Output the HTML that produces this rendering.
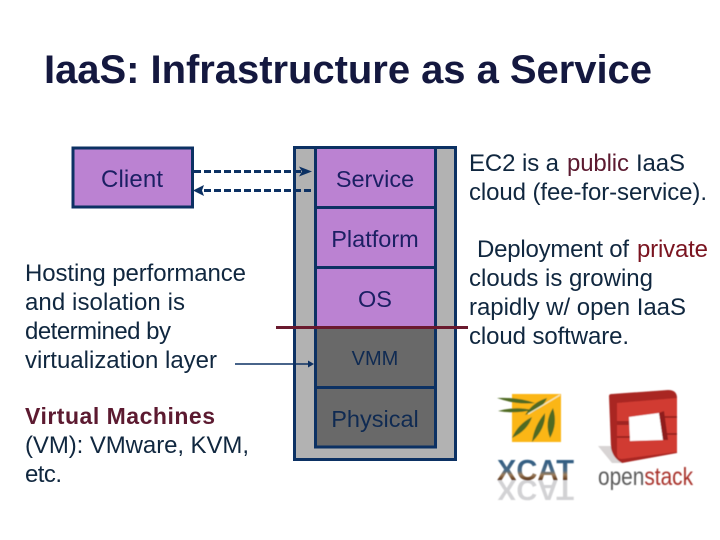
<!DOCTYPE html>
<html><head><meta charset="utf-8"><style>
html,body{margin:0;padding:0;background:#fff;width:720px;height:540px;overflow:hidden}
svg{display:block}
text{font-family:"Liberation Sans",Arial,sans-serif}
</style></head><body>
<svg width="720" height="540" viewBox="0 0 720 540" xmlns="http://www.w3.org/2000/svg">
<defs>
<filter id="b" x="-5%" y="-5%" width="110%" height="110%"><feGaussianBlur stdDeviation="0.5"/></filter>
<linearGradient id="xg" gradientUnits="userSpaceOnUse" x1="0" y1="459" x2="0" y2="480">
<stop offset="0" stop-color="#2c5a82"/><stop offset=".55" stop-color="#4a6a85"/><stop offset=".75" stop-color="#9a7a58"/><stop offset="1" stop-color="#5a3418"/>
</linearGradient>
</defs>
<rect width="720" height="540" fill="#fff"/>
<text x="44" y="83" font-size="40" font-weight="bold" fill="#14183f" textLength="608" lengthAdjust="spacing">IaaS: Infrastructure as a Service</text>

<rect x="73" y="148" width="119.500" height="59" fill="#bb82d2" stroke="#0c3163" stroke-width="3"/>
<text x="101" y="187" font-size="24" fill="#1b1f63" textLength="62" lengthAdjust="spacing">Client</text>

<rect x="294.500" y="147.500" width="161" height="312" fill="#b2b2b2" stroke="#0c3163" stroke-width="3"/>
<rect x="315.500" y="147.500" width="120" height="180" fill="#bb82d2"/>
<rect x="315.500" y="327.500" width="120" height="119.500" fill="#696969"/>
<g stroke="#0c3163" stroke-width="3" fill="none">
<rect x="315.500" y="147.500" width="120" height="299.500"/>
<path d="M315.500 207.500H435.500M315.500 267.500H435.500M315.500 387.500H435.500"/>
</g>
<path d="M276 327.500H468" stroke="#6a1a2e" stroke-width="3"/>

<g font-size="23.500" text-anchor="middle">
<text x="375" y="187" fill="#1b1f63">Service</text>
<text x="375" y="247" fill="#1b1f63">Platform</text>
<text x="375" y="307" fill="#1b1f63">OS</text>
<text x="375" y="365" font-size="20" fill="#0f2a52">VMM</text>
<text x="375" y="427" fill="#0f2a52">Physical</text>
</g>

<g stroke="#0c3163" stroke-width="3" fill="none" stroke-dasharray="7 3">
<path d="M194 171.500H302"/>
<path d="M204 190.500H312"/>
</g>
<path d="M312 171.500L299 166.500L302 171.500L299 176.500Z" fill="#0c3163"/>
<path d="M193 190.500L204 185L202 190.500L204 196Z" fill="#0c3163"/>
<path d="M235 364H312" stroke="#0c3163" stroke-width="1.500"/>
<path d="M314 364L308 360.500V367.500Z" fill="#0c3163"/>

<g font-size="24" fill="#10273f">
<text x="25" y="281" textLength="221" lengthAdjust="spacing">Hosting performance</text>
<text x="25" y="310" textLength="160" lengthAdjust="spacing">and isolation is</text>
<text x="25" y="339" textLength="146" lengthAdjust="spacing">determined by</text>
<text x="25" y="368" textLength="192" lengthAdjust="spacing">virtualization layer</text>
<text x="25" y="424" font-weight="bold" font-size="23" fill="#5c1a30" textLength="190" lengthAdjust="spacing">Virtual Machines</text>
<text x="25" y="453" textLength="224" lengthAdjust="spacing">(VM): VMware, KVM,</text>
<text x="25" y="482" textLength="37" lengthAdjust="spacing">etc.</text>

<text x="469" y="171" textLength="90" lengthAdjust="spacing">EC2 is a</text>
<text x="567" y="171" fill="#5c1a30" textLength="62" lengthAdjust="spacing">public</text>
<text x="636" y="171" textLength="49" lengthAdjust="spacing">IaaS</text>
<text x="469" y="200" textLength="238" lengthAdjust="spacing">cloud (fee-for-service).</text>
<text x="477" y="257" textLength="152" lengthAdjust="spacing">Deployment of</text>
<text x="637" y="257" fill="#7a1420" textLength="71" lengthAdjust="spacing">private</text>
<text x="469" y="286" textLength="184" lengthAdjust="spacing">clouds is growing</text>
<text x="469" y="315" textLength="217" lengthAdjust="spacing">rapidly w/ open IaaS</text>
<text x="469" y="344" textLength="160" lengthAdjust="spacing">cloud software.</text>
</g>

<!-- xCAT logo -->
<g filter="url(#b)">
<rect x="512" y="394" width="49" height="48" fill="#fbb615"/>
<g fill="#4f6b24">
<path d="M497 398Q518 397 535 403Q516 405 497 398Z"/>
<path d="M498 411Q516 406 532 410Q516 414 498 411Z"/>
<path d="M512 438Q518 424 532 417Q528 430 512 438Z"/>
<path d="M532 442Q534 426 545 413Q546 428 532 442Z"/>
<path d="M550 438Q544 422 553 408Q558 424 550 438Z"/>
<path d="M525 415Q533 402 547 398Q543 409 525 415Z"/>
</g>
<path d="M528 414L560 395" stroke="#f2efc8" stroke-width="1.200"/>
<g opacity=".3" transform="translate(0,960) scale(1,-1)">
<text x="497" y="480" font-size="29" font-weight="bold" fill="#6b6b70" textLength="77" lengthAdjust="spacingAndGlyphs">XCAT</text>
</g>
<text x="497" y="480" font-size="29" font-weight="bold" fill="url(#xg)" textLength="77" lengthAdjust="spacingAndGlyphs">XCAT</text>
</g>

<!-- OpenStack logo -->
<g filter="url(#b)">
<path d="M598 446L612 446L622 463L612 463Z" fill="#d8d4d4"/>
<path d="M609 396Q609 394 612 394L668 390Q677 390 677 398V453L622 463Q613 458 611 448Z" fill="#a92824"/>
<path d="M617 403L677 398V452L622 459Q617 459 617 454Z" fill="#d13a33"/>
<path d="M629 417L659 413L663 440L630 441Z" fill="#fff"/>
<path d="M659 413L663 440L668 440L664 411Z" fill="#8f1f1c"/>
<path d="M617 422H629M617 424H629M664 417H677M664 434H677M617 437H630" stroke="#8f1f1c" stroke-width="1.500"/>
<text x="598" y="485" font-size="25" fill="#5a5a5a" textLength="95" lengthAdjust="spacingAndGlyphs">open<tspan fill="#a8322c">stack</tspan></text>
</g>
</svg>
</body></html>
